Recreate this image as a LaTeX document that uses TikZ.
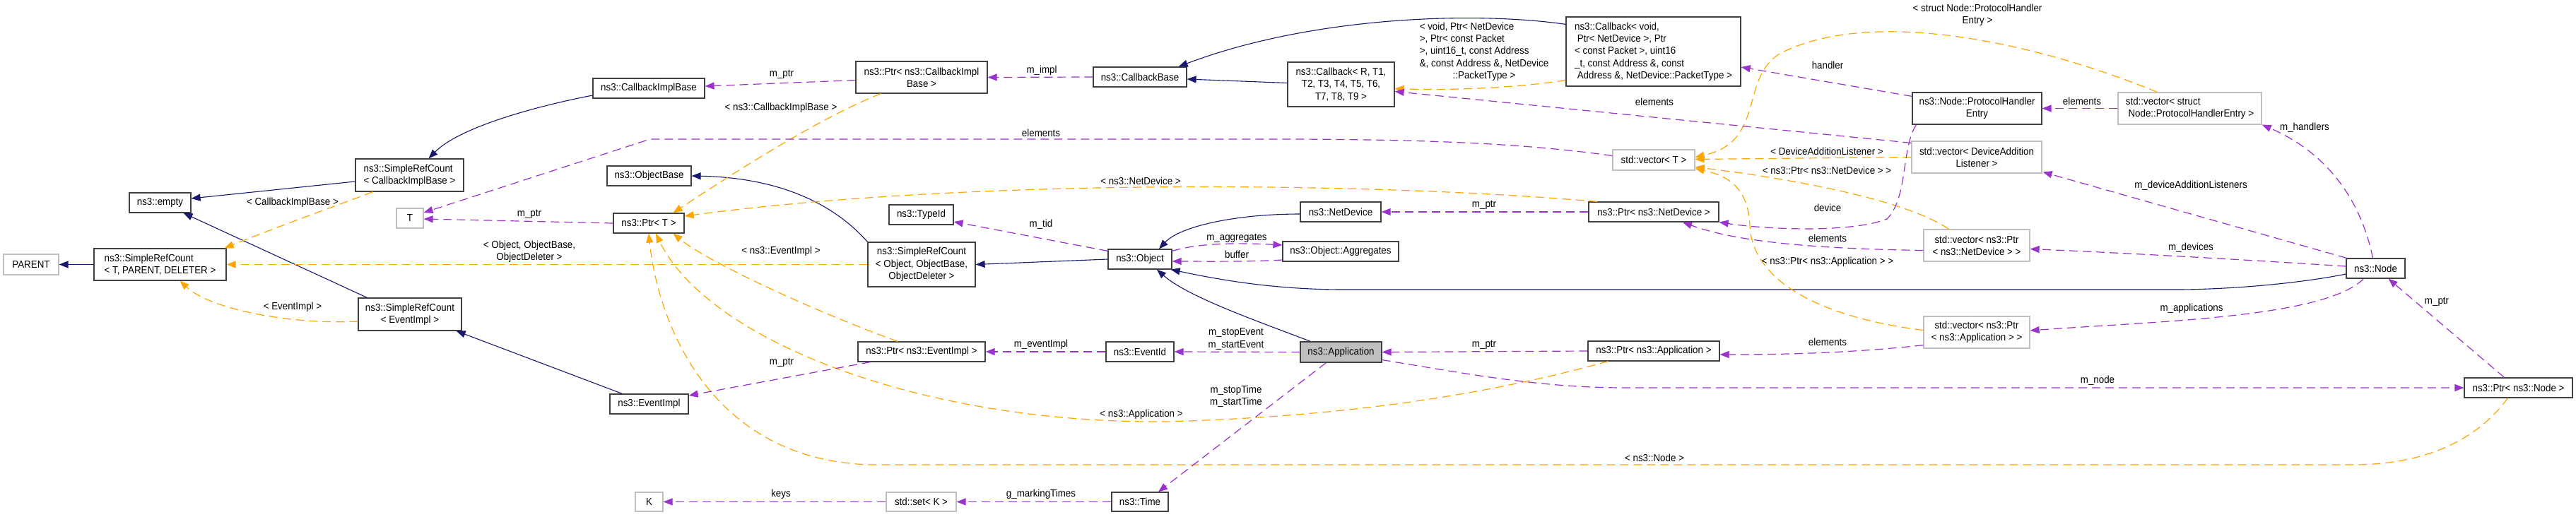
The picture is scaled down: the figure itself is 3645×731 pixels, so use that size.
\documentclass[tikz,border=0pt]{standalone}
\usepackage{fontspec}
\setmainfont{Liberation Sans}[FakeStretch=0.92]
\usetikzlibrary{arrows.meta,calc}
\definecolor{navy}{HTML}{191970}
\definecolor{purp}{HTML}{9A32CD}
\definecolor{orng}{HTML}{FFA500}
\definecolor{bord}{HTML}{404040}
\definecolor{lgray}{HTML}{BFBFBF}
\newcommand\dxfont{\fontsize{14.5}{17.3}\selectfont}
\tikzset{
  every node/.append style={font=\dxfont},
  box/.style={draw=bord, line width=1.2pt, fill=white, inner sep=2pt, align=center},
  gbox/.style={box, draw=lgray},
  inh/.style={draw=navy, line width=1.1pt, -{Triangle[length=13pt,width=10pt]}},
  mem/.style={draw=purp, line width=1.2pt, dash pattern=on 12pt off 7pt, -{Triangle[length=13pt,width=10pt]}},
  tpl/.style={draw=orng, line width=1.2pt, dash pattern=on 12pt off 7pt, -{Triangle[length=13pt,width=10pt]}},
  lbl/.style={inner sep=0pt, align=center}
}
\begin{document}
\begin{tikzpicture}[x=1pt,y=-1pt]
\fill[white] (0,0) rectangle (3645,731);
\useasboundingbox (0,0) rectangle (3645,731);

% ---------- nodes ----------
\node[gbox, minimum width=78pt, minimum height=29pt] (parent) at (44,374.5) {PARENT};
\node[box, align=left, minimum width=187pt, minimum height=45pt] (srcTPD) at (226.5,374.5) {ns3::SimpleRefCount\\< T, PARENT, DELETER >};
\node[box, minimum width=87pt, minimum height=28pt] (empty) at (226.5,287) {ns3::empty};
\node[box, align=left, minimum width=153pt, minimum height=46pt] (srcCIB) at (579.5,248) {ns3::SimpleRefCount\\< CallbackImplBase >};
\node[gbox, minimum width=38pt, minimum height=28pt] (T) at (580,309) {T};
\node[box, minimum width=146pt, minimum height=46pt] (srcEI) at (580,445) {ns3::SimpleRefCount\\< EventImpl >};
\node[box, minimum width=158pt, minimum height=28pt] (cib) at (918,125) {ns3::CallbackImplBase};
\node[box, minimum width=119pt, minimum height=28pt] (objbase) at (918.5,249) {ns3::ObjectBase};
\node[box, minimum width=100pt, minimum height=28pt] (ptrT) at (918,316) {ns3::Ptr< T >};
\node[box, minimum width=111pt, minimum height=28pt] (eventimpl) at (918.5,572) {ns3::EventImpl};
\node[gbox, minimum width=39pt, minimum height=27pt] (K) at (918.5,710.5) {K};
\node[box, minimum width=186pt, minimum height=45pt] (ptrCIB) at (1304,109.5) {ns3::Ptr< ns3::CallbackImpl\\Base >};
\node[box, minimum width=91pt, minimum height=28pt] (typeid) at (1303.5,304) {ns3::TypeId};
\node[box, minimum width=152pt, minimum height=63pt] (srcObj) at (1304,374.5) {ns3::SimpleRefCount\\< Object, ObjectBase,\\ObjectDeleter >};
\node[box, minimum width=180pt, minimum height=28pt] (ptrEI) at (1304,498) {ns3::Ptr< ns3::EventImpl >};
\node[gbox, minimum width=99pt, minimum height=27pt] (set) at (1303.5,710.5) {std::set< K >};
\node[box, minimum width=132pt, minimum height=28pt] (cbbase) at (1613,109) {ns3::CallbackBase};
\node[box, minimum width=90pt, minimum height=28pt] (object) at (1613,367) {ns3::Object};
\node[box, minimum width=96pt, minimum height=28pt] (eventid) at (1613,498) {ns3::EventId};
\node[box, minimum width=80pt, minimum height=27pt] (time) at (1613,710.5) {ns3::Time};
\node[box, minimum width=151pt, minimum height=63pt] (cbR) at (1897.5,119.5) {ns3::Callback< R, T1,\\T2, T3, T4, T5, T6,\\T7, T8, T9 >};
\node[box, minimum width=114pt, minimum height=28pt] (netdev) at (1897,300) {ns3::NetDevice};
\node[box, minimum width=164pt, minimum height=28pt] (aggr) at (1897,356) {ns3::Object::Aggregates};
\node[box, fill=lgray, minimum width=115pt, minimum height=29pt] (app) at (1897.5,498.5) {ns3::Application};
\node[gbox, minimum width=116pt, minimum height=29pt] (vecT) at (2340,226.5) {std::vector< T >};
\node[box, align=left, minimum width=247pt, minimum height=98pt] (cbVoid) at (2339.5,73) {ns3::Callback< void,\\\ Ptr< NetDevice >, Ptr\\< const Packet >, uint16\\\_t, const Address \&, const\\\ Address \&, NetDevice::PacketType >};
\node[box, minimum width=184pt, minimum height=28pt] (ptrND) at (2340,300) {ns3::Ptr< ns3::NetDevice >};
\node[box, minimum width=186pt, minimum height=28pt] (ptrApp) at (2340,497) {ns3::Ptr< ns3::Application >};
\node[box, minimum width=183pt, minimum height=45pt] (phe) at (2797.5,153.5) {ns3::Node::ProtocolHandler\\Entry};
\node[gbox, minimum width=184pt, minimum height=45pt] (vecDAL) at (2797,222.5) {std::vector< DeviceAddition\\Listener >};
\node[gbox, minimum width=150pt, minimum height=45pt] (vecPND) at (2797,347.5) {std::vector< ns3::Ptr\\< ns3::NetDevice > >};
\node[gbox, minimum width=150pt, minimum height=45pt] (vecPA) at (2797,470.5) {std::vector< ns3::Ptr\\< ns3::Application > >};
\node[gbox, align=left, minimum width=203pt, minimum height=45pt] (vecPHE) at (3098.5,153.5) {std::vector< struct\\\ Node::ProtocolHandlerEntry >};
\node[box, minimum width=83pt, minimum height=28pt] (node) at (3361.5,380) {ns3::Node};
\node[box, minimum width=153pt, minimum height=28pt] (ptrNode) at (3563.5,549) {ns3::Ptr< ns3::Node >};

% ---------- inheritance (navy) ----------
\draw[inh] (srcTPD.west) -- (parent.east);
\draw[inh] ($(srcCIB.west)+(0,9)$) -- ($(empty.east)+(0,-6)$);
\draw[inh] ($(srcEI.north west)+(13,0)$) -- ($(empty.south)+(33,0)$);
\draw[inh] ($(cib.west)+(0,10)$) .. controls (760,150) and (650,180) .. ($(srcCIB.north)+(27,0)$);
\draw[inh] (srcObj.north west) .. controls (1190,300) and (1120,252) .. (objbase.east);
\draw[inh] ($(eventimpl.north west)+(18,0)$) -- ($(srcEI.south east)+(-8,0)$);
\draw[inh] (object.west) -- (srcObj.east);
\draw[inh] ($(netdev.west)+(0,3)$) .. controls (1750,303) and (1670,320) .. ($(object.north)+(27,0)$);
\draw[inh] ($(app.north west)+(15,0)$) .. controls (1780,455) and (1680,420) .. ($(object.south)+(24,0)$);
\draw[inh] ($(node.west)+(0,8)$) .. controls (3250,402) and (3150,410) .. (3080,410) -- (1900,410) .. controls (1800,410) and (1720,395) .. ($(object.south east)+(-2,0)$);
\draw[inh] ($(cbVoid.north west)+(0,11)$) .. controls (2080,15) and (1850,25) .. ($(cbbase.north east)+(-12,0)$);
\draw[inh] ($(cbR.west)+(0,-2)$) -- ($(cbbase.east)+(0,3)$);

% ---------- template instances (orange) ----------
\draw[tpl] ($(srcCIB.south west)+(25,0)$) .. controls (480,290) and (400,318) .. ($(srcTPD.north east)+(-3,0)$);
\draw[tpl] (srcObj.west) -- (srcTPD.east);
\draw[tpl] ($(srcEI.west)+(0,10)$) .. controls (420,460) and (300,440) .. ($(srcTPD.south)+(28,0)$);
\draw[tpl] ($(ptrCIB.south west)+(36,0)$) .. controls (1150,170) and (1000,270) .. ($(ptrT.north east)+(-16,0)$);
\draw[tpl] ($(ptrND.north west)+(13,0)$) .. controls (1900,255) and (1350,255) .. ($(ptrT.east)+(0,-10)$);
\draw[tpl] ($(ptrNode.south)+(-15,0)$) .. controls (3500,630) and (3420,658) .. (3330,658) -- (1230,658) .. controls (1000,650) and (930,450) .. (ptrT.south);
\draw[tpl] ($(ptrApp.south west)+(29,0)$) .. controls (2100,560) and (1900,590) .. (1650,597) .. controls (1300,600) and (1000,480) .. ($(ptrT.south)+(10,0)$);
\draw[tpl] ($(ptrEI.north west)+(57,0)$) .. controls (1150,440) and (1000,370) .. ($(ptrT.south east)+(-16,0)$);
\draw[tpl] ($(cbVoid.south west)+(0,-9)$) .. controls (2140,125) and (2050,128) .. ($(cbR.east)+(0,6)$);
\draw[tpl] ($(vecPHE.north west)+(56,0)$) .. controls (2880,60) and (2650,10) .. (2520,75) .. controls (2460,110) and (2500,200) .. ($(vecT.east)+(0,-4)$);
\draw[tpl] (vecDAL.west) -- ($(vecT.east)+(0,-1)$);
\draw[tpl] ($(vecPND.north west)+(36,0)$) .. controls (2700,285) and (2550,255) .. ($(vecT.east)+(0,10)$);
\draw[tpl] ($(vecPA.west)+(0,-3)$) .. controls (2580,450) and (2480,400) .. (2476,320) .. controls (2474,270) and (2450,250) .. ($(vecT.south east)+(0,-3)$);

% ---------- members (purple) ----------
\draw[mem] ($(vecT.west)+(0,-6)$) .. controls (2150,202) and (2000,197) .. (1800,197) -- (920,197) -- ($(T.east)+(0,-8)$);
\draw[mem] (ptrT.west) -- ($(T.east)+(0,1)$);
\draw[mem] ($(ptrCIB.west)+(0,4)$) -- ($(cib.east)+(0,-3)$);
\draw[mem] (cbbase.west) -- (ptrCIB.east);
\draw[mem] ($(object.north west)+(0,3)$) -- ($(typeid.east)+(0,10)$);
\draw[mem] ($(object.north east)+(0,3)$) .. controls (1700,343) and (1760,344) .. ($(aggr.west)+(0,-9)$);
\draw[mem] ($(aggr.west)+(0,12)$) .. controls (1760,371) and (1700,370) .. ($(object.east)+(0,3)$);
\draw[mem] ($(vecDAL.north west)+(0,3)$) -- ($(cbR.east)+(0,10)$);
\draw[mem] ($(phe.north west)+(0,6)$) -- ($(cbVoid.east)+(0,22)$);
\draw[mem] ($(phe.south west)+(6,0)$) .. controls (2690,210) and (2700,280) .. (2670,310) .. controls (2620,330) and (2500,325) .. (ptrND.south east);
\draw[mem] (vecPHE.west) -- (phe.east);
\draw[mem] ($(vecPND.west)+(0,7)$) .. controls (2550,352) and (2450,340) .. ($(ptrND.south)+(41,0)$);
\draw[mem] ($(vecPA.south west)+(0,-5)$) .. controls (2620,500) and (2520,502) .. ($(ptrApp.east)+(0,5)$);
\draw[mem] (ptrApp.west) -- (app.east);
\draw[mem] (ptrND.west) -- (netdev.east);
\draw[mem] (eventid.west) -- (ptrEI.east);
\draw[mem] (app.west) -- (eventid.east);
\draw[mem] ($(ptrEI.south west)+(18,0)$) -- ($(eventimpl.east)+(0,-12)$);
\draw[mem] ($(app.south west)+(37,0)$) -- ($(time.north)+(26,0)$);
\draw[mem] (time.west) -- (set.east);
\draw[mem] (set.west) -- (K.east);
\draw[mem] ($(app.east)+(0,11)$) .. controls (2080,530) and (2180,549) .. (2300,549) -- (ptrNode.west);
\draw[mem] ($(node.north west)+(1,0)$) -- ($(vecDAL.south east)+(1,-2)$);
\draw[mem] ($(node.west)+(0,-3)$) .. controls (3150,366) and (3000,358) .. ($(vecPND.east)+(0,5)$);
\draw[mem] ($(node.south west)+(25,0)$) .. controls (3290,450) and (3050,455) .. ($(vecPA.east)+(0,-2.5)$);
\draw[mem] ($(node.north)+(-4,0)$) .. controls (3340,280) and (3290,215) .. (vecPHE.south east);
\draw[mem] ($(ptrNode.north)+(-20,0)$) -- ($(node.south)+(18,0)$);

% ---------- labels ----------
\node[lbl] (l1) at (414,287) {< CallbackImplBase >};
\node[lbl] (l2) at (749,356) {< Object, ObjectBase,\\ObjectDeleter >};
\node[lbl] (l3) at (414,435) {< EventImpl >};
\node[lbl] (l4) at (749,303) {m\_ptr};
\node[lbl] (l5) at (1106,105) {m\_ptr};
\node[lbl] (l6) at (1105,153) {< ns3::CallbackImplBase >};
\node[lbl] (l7) at (1105,356) {< ns3::EventImpl >};
\node[lbl] (l8) at (1106,513) {m\_ptr};
\node[lbl] (l9) at (1105,700) {keys};
\node[lbl] (l10) at (1474,100) {m\_impl};
\node[lbl] (l11) at (1473,188) {elements};
\node[lbl] (l12) at (1614,256) {< ns3::NetDevice >};
\node[lbl] (l13) at (1473,318) {m\_tid};
\node[lbl] (l14) at (1750,337) {m\_aggregates};
\node[lbl] (l15) at (1750,360) {buffer};
\node[lbl] (l16) at (1473,488) {m\_eventImpl};
\node[lbl] (l17) at (1749,480) {m\_stopEvent\\m\_startEvent};
\node[lbl] (l18) at (1749,561) {m\_stopTime\\m\_startTime};
\node[lbl] (l19) at (1615,587) {< ns3::Application >};
\node[lbl] (l20) at (1473,700) {g\_markingTimes};
\node[lbl] (l21) at (2100,73.5) {\begin{tabular}{@{}l@{}}< void, Ptr< NetDevice\\>, Ptr< const Packet\\>, uint16\_t, const Address\\\&, const Address \&, NetDevice\\\multicolumn{1}{@{}c@{}}{::PacketType >}\end{tabular}};
\node[lbl] (l22) at (2341,144) {elements};
\node[lbl] (l23) at (2100,290) {m\_ptr};
\node[lbl] (l24) at (2100,488) {m\_ptr};
\node[lbl] (l25) at (2341,648) {< ns3::Node >};
\node[lbl] (l26) at (2798,21.5) {< struct Node::ProtocolHandler\\Entry >};
\node[lbl] (l27) at (2586,92) {handler};
\node[lbl] (l28) at (2585,214) {< DeviceAdditionListener >};
\node[lbl] (l29) at (2585,241) {< ns3::Ptr< ns3::NetDevice > >};
\node[lbl] (l30) at (2586,294) {device};
\node[lbl] (l31) at (2586,337) {elements};
\node[lbl] (l32) at (2586,371) {< ns3::Ptr< ns3::Application > >};
\node[lbl] (l33) at (2586,484) {elements};
\node[lbl] (l34) at (2946,143) {elements};
\node[lbl] (l35) at (3261,181) {m\_handlers};
\node[lbl] (l36) at (3100,263) {m\_deviceAdditionListeners};
\node[lbl] (l37) at (3100,351) {m\_devices};
\node[lbl] (l38) at (3101,437) {m\_applications};
\node[lbl] (l39) at (2968,539) {m\_node};
\node[lbl] (l40) at (3448,427) {m\_ptr};
\end{tikzpicture}
\end{document}
